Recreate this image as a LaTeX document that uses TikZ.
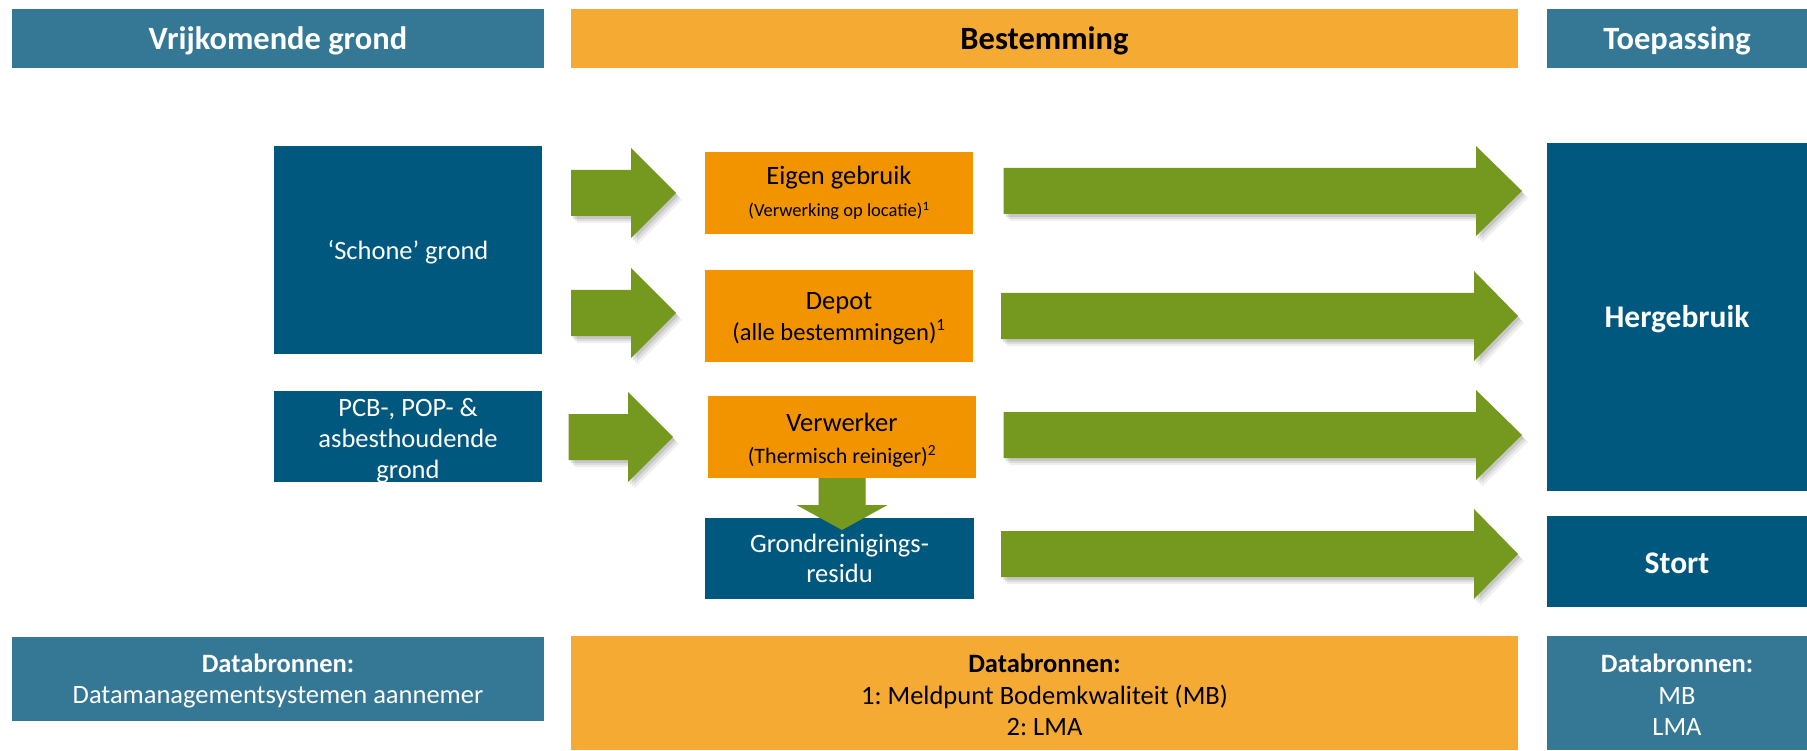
\documentclass[tikz,border=0pt]{standalone}
\usepackage{fontspec}
\setmainfont{Carlito}
\usetikzlibrary{calc}
\frenchspacing

\definecolor{hdrblue}{RGB}{52,120,150}
\definecolor{boxblue}{RGB}{0,88,127}
\definecolor{hdrorange}{RGB}{244,170,51}
\definecolor{boxorange}{RGB}{242,148,0}
\definecolor{flowgreen}{RGB}{117,152,31}

% horizontal block arrow: #1 shaft start x, #2 head base x, #3 tip x, #4 centre y
\newcommand{\rightblock}[4]{%
  \foreach \dx/\dy/\op in {6/7/0.06,4/5/0.08,2/3/0.10}{%
    \fill[black, opacity=\op, shift={(\dx,\dy)}]
      (#1,#4-23) -- (#2,#4-23) -- (#2,#4-45) -- (#3,#4) -- (#2,#4+45)
      -- (#2,#4+23) -- (#1,#4+23) -- cycle;}
  \fill[flowgreen]
    (#1,#4-23) -- (#2,#4-23) -- (#2,#4-45) -- (#3,#4) -- (#2,#4+45)
    -- (#2,#4+23) -- (#1,#4+23) -- cycle;}

\tikzset{
  box/.style={rectangle, inner sep=0pt, outer sep=0pt},
  hdrb/.style={box, fill=hdrblue},
  hdro/.style={box, fill=hdrorange},
  bbox/.style={box, fill=boxblue},
  obox/.style={box, fill=boxorange},
  lbl/.style={anchor=base, inner sep=0pt, outer sep=0pt},
  wlbl/.style={lbl, text=white},
  klbl/.style={lbl, text=black},
  headfont/.style={font=\fontsize{32.5}{39}\selectfont\bfseries},
  mainfont/.style={font=\fontsize{26.5}{32}\selectfont},
  usefont/.style={font=\fontsize{31.5}{38}\selectfont\bfseries},
}

\begin{document}
\begin{tikzpicture}[x=1pt, y=-1pt]
  \useasboundingbox (0,0) rectangle (1807,751);

  % column headers
  \node[hdrb, minimum width=532, minimum height=59] (hdrSource) at (278,38.5) {};
  \node[hdro, minimum width=947, minimum height=59] (hdrDest) at (1044.5,38.5) {};
  \node[hdrb, minimum width=260, minimum height=59] (hdrUse) at (1677,38.5) {};
  \node[wlbl, headfont] (hdrSourceT) at (278,50) {Vrijkomende grond};
  \node[klbl, headfont] (hdrDestT) at (1044.5,50) {Bestemming};
  \node[wlbl, headfont] (hdrUseT) at (1677,50) {Toepassing};

  % sources
  \node[bbox, minimum width=268, minimum height=208] (schone) at (408,250) {};
  \node[wlbl, mainfont] (schoneT) at (408,260) {‘Schone’ grond};
  \node[bbox, minimum width=268, minimum height=91] (pcb) at (408,436.5) {};
  \node[wlbl, mainfont] (pcbT1) at (408,416) {PCB-, POP- \&};
  \node[wlbl, mainfont] (pcbT2) at (408,447) {asbesthoudende};
  \node[wlbl, mainfont] (pcbT3) at (408,478) {grond};

  % destinations
  \node[obox, minimum width=268, minimum height=82] (eigen) at (839,193) {};
  \node[klbl, mainfont] (eigenT1) at (839,185) {Eigen gebruik};
  \node[klbl, font=\fontsize{18.5}{22}\selectfont] (eigenT2) at (839,216.5)
    {(Verwerking op locatie)\textsuperscript{1}};

  \node[obox, minimum width=268, minimum height=92] (depot) at (839,316) {};
  \node[klbl, mainfont] (depotT1) at (839,310) {Depot};
  \node[klbl, font=\fontsize{24.5}{29}\selectfont] (depotT2) at (839,340)
    {(alle bestemmingen)\textsuperscript{1}};

  \node[obox, minimum width=268, minimum height=82] (verw) at (842,437) {};
  \node[klbl, mainfont] (verwT1) at (842,431) {Verwerker};
  \node[klbl, font=\fontsize{22}{26}\selectfont] (verwT2) at (842,463)
    {(Thermisch reiniger)\textsuperscript{2}};

  \node[bbox, minimum width=269, minimum height=81] (grond) at (839.5,558.5) {};
  \node[wlbl, mainfont] (grondT1) at (839.5,552) {Grondreinigings-};
  \node[wlbl, mainfont] (grondT2) at (839.5,582) {residu};

  % applications
  \node[bbox, minimum width=260, minimum height=348] (herge) at (1677,317) {};
  \node[wlbl, usefont] (hergeT) at (1677,327) {Hergebruik};
  \node[bbox, minimum width=260, minimum height=91] (stort) at (1677,561.5) {};
  \node[wlbl, usefont] (stortT) at (1677,573) {Stort};

  % data sources
  \node[hdrb, minimum width=532, minimum height=84] (srcSource) at (278,679) {};
  \node[wlbl, mainfont] (srcSourceT1) at (278,672) {\bfseries Databronnen:};
  \node[wlbl, mainfont] (srcSourceT2) at (278,703) {Datamanagementsystemen aannemer};

  \node[hdro, minimum width=947, minimum height=114] (srcDest) at (1044.5,693) {};
  \node[klbl, mainfont] (srcDestT1) at (1044.5,672) {\bfseries Databronnen:};
  \node[klbl, mainfont] (srcDestT2) at (1044.5,704) {1: Meldpunt Bodemkwaliteit (MB)};
  \node[klbl, mainfont] (srcDestT3) at (1044.5,735) {2: LMA};

  \node[hdrb, minimum width=260, minimum height=114] (srcUse) at (1677,693) {};
  \node[wlbl, mainfont] (srcUseT1) at (1677,672) {\bfseries Databronnen:};
  \node[wlbl, mainfont] (srcUseT2) at (1677,704) {MB};
  \node[wlbl, mainfont] (srcUseT3) at (1677,735) {LMA};

  % flows from sources to destinations
  \rightblock{571}{631}{676}{193}
  \rightblock{571}{631}{676}{313}
  \rightblock{568.5}{628}{673}{437}

  % flows from destinations to applications
  \rightblock{1003.5}{1476}{1522}{191}
  \rightblock{1001}{1474}{1518}{316}
  \rightblock{1003.5}{1476}{1522}{435}
  \rightblock{1001}{1474}{1518}{554}

  % residue from the thermal cleaner
  \fill[black, opacity=0.10, shift={(3,3)}]
    ($(verw.south)+(-23.5,0)$) -- ($(verw.south)+(23.5,0)$) -- ($(verw.south)+(23.5,27)$)
    -- ($(verw.south)+(45.5,27)$) -- ($(verw.south)+(0,52)$) -- ($(verw.south)+(-45.5,27)$)
    -- ($(verw.south)+(-23.5,27)$) -- cycle;
  \fill[flowgreen]
    ($(verw.south)+(-23.5,0)$) -- ($(verw.south)+(23.5,0)$) -- ($(verw.south)+(23.5,27)$)
    -- ($(verw.south)+(45.5,27)$) -- ($(verw.south)+(0,52)$) -- ($(verw.south)+(-45.5,27)$)
    -- ($(verw.south)+(-23.5,27)$) -- cycle;
\end{tikzpicture}
\end{document}
